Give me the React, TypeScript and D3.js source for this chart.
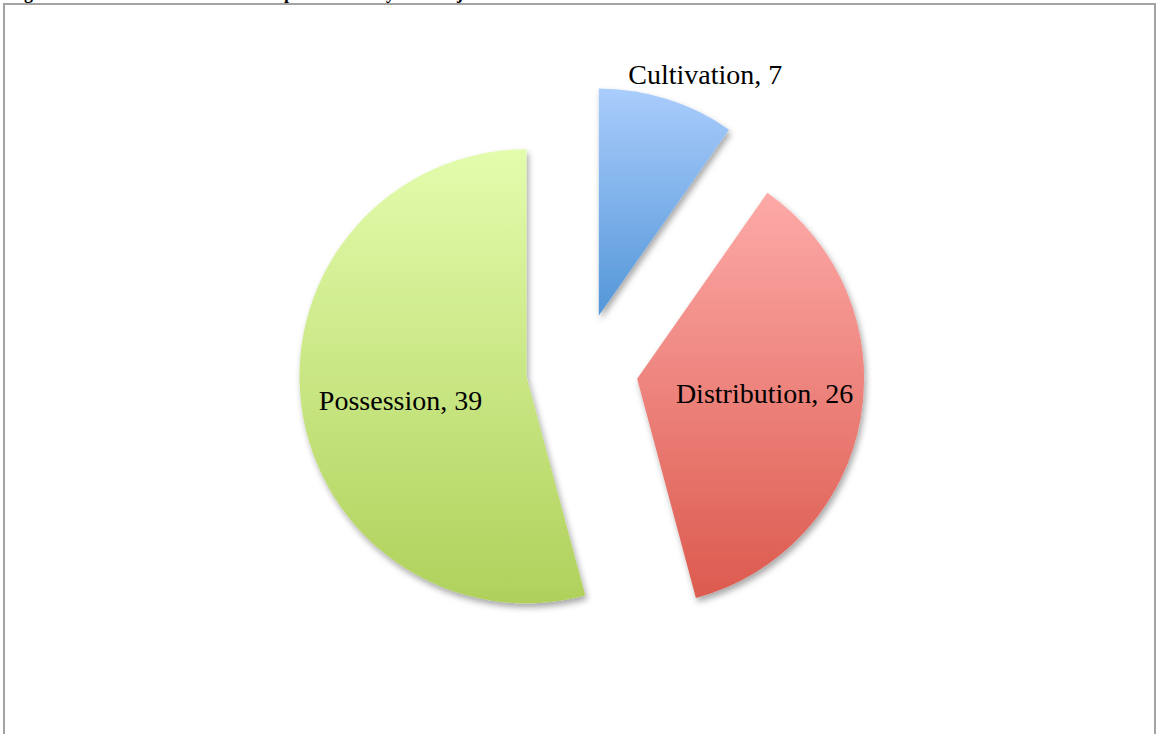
import React from "react";
import * as d3 from "d3";

const categories = ["Cultivation", "Distribution", "Possession"];
const values = [7, 26, 39];
const topColors = ["#aacdfc", "#fdaaa8", "#e3fcad"];
const bottomColors = ["#5396d8", "#dc5a4e", "#afd15b"];
const titleParts = ["Figure 1: Cannabis offences ", "prosecuted ", "by ", "subject"];

const W = 1157;
const H = 734;
const cx = 582;
const cy = 369;
const R = 227;
const EXPLODE = 56;

export default function App() {
  const pie = d3.pie<number>().sort(null).value((d) => d);
  const arcs = pie(values);
  const arcGen = d3.arc<d3.PieArcDatum<number>>().innerRadius(0).outerRadius(R);

  const offset = (a: d3.PieArcDatum<number>) => {
    const mid = (a.startAngle + a.endAngle) / 2;
    return [Math.sin(mid) * EXPLODE, -Math.cos(mid) * EXPLODE];
  };

  const labelPos = (a: d3.PieArcDatum<number>) => {
    const span = a.endAngle - a.startAngle;
    const outside = span < 0.8;
    const ang = outside
      ? a.startAngle + 0.68 * span
      : (a.startAngle + a.endAngle) / 2 - 0.06;
    const lr = outside ? R * 1.162 : R * 0.565;
    return [Math.sin(ang) * lr, -Math.cos(ang) * lr];
  };

  const titleX = [8, 284, 376, 430];

  return (
    <svg
      width={W}
      height={H}
      style={{ position: "absolute", left: 0, top: 0, background: "#fff" }}
    >
      <defs>
        {arcs.map((a, i) => (
          <linearGradient key={i} id={`g${i}`} x1="0" y1="0" x2="0" y2="1">
            <stop offset="0%" stopColor={topColors[i]} />
            <stop offset="100%" stopColor={bottomColors[i]} />
          </linearGradient>
        ))}
        <filter id="shadow" x="-20%" y="-20%" width="140%" height="140%">
          <feDropShadow dx="2" dy="4" stdDeviation="3" floodColor="#000" floodOpacity="0.35" />
        </filter>
      </defs>
      <text
        y={-1}
        fontFamily="Liberation Serif, serif"
        fontWeight="bold"
        fontSize={18}
        fill="#000"
      >
        {titleParts.map((t, i) => (
          <tspan key={i} x={titleX[i]}>
            {t}
          </tspan>
        ))}
      </text>
      <rect x={4} y={4} width={1151} height={H + 10} fill="#fff" stroke="#a3a3a3" strokeWidth={2} />
      {arcs.map((a, i) => {
        const [ox, oy] = offset(a);
        return (
          <g key={i} transform={`translate(${cx + ox},${cy + oy})`}>
            <path d={arcGen(a) || ""} fill={`url(#g${i})`} filter="url(#shadow)" />
          </g>
        );
      })}
      {arcs.map((a, i) => {
        const [ox, oy] = offset(a);
        const [lx, ly] = labelPos(a);
        return (
          <text
            key={i}
            x={cx + ox + lx}
            y={cy + oy + ly}
            dy="0.35em"
            textAnchor="middle"
            fontFamily="Liberation Serif, serif"
            fontSize={28}
            fill="#000"
          >
            {`${categories[i]}, ${values[i]}`}
          </text>
        );
      })}
    </svg>
  );
}
